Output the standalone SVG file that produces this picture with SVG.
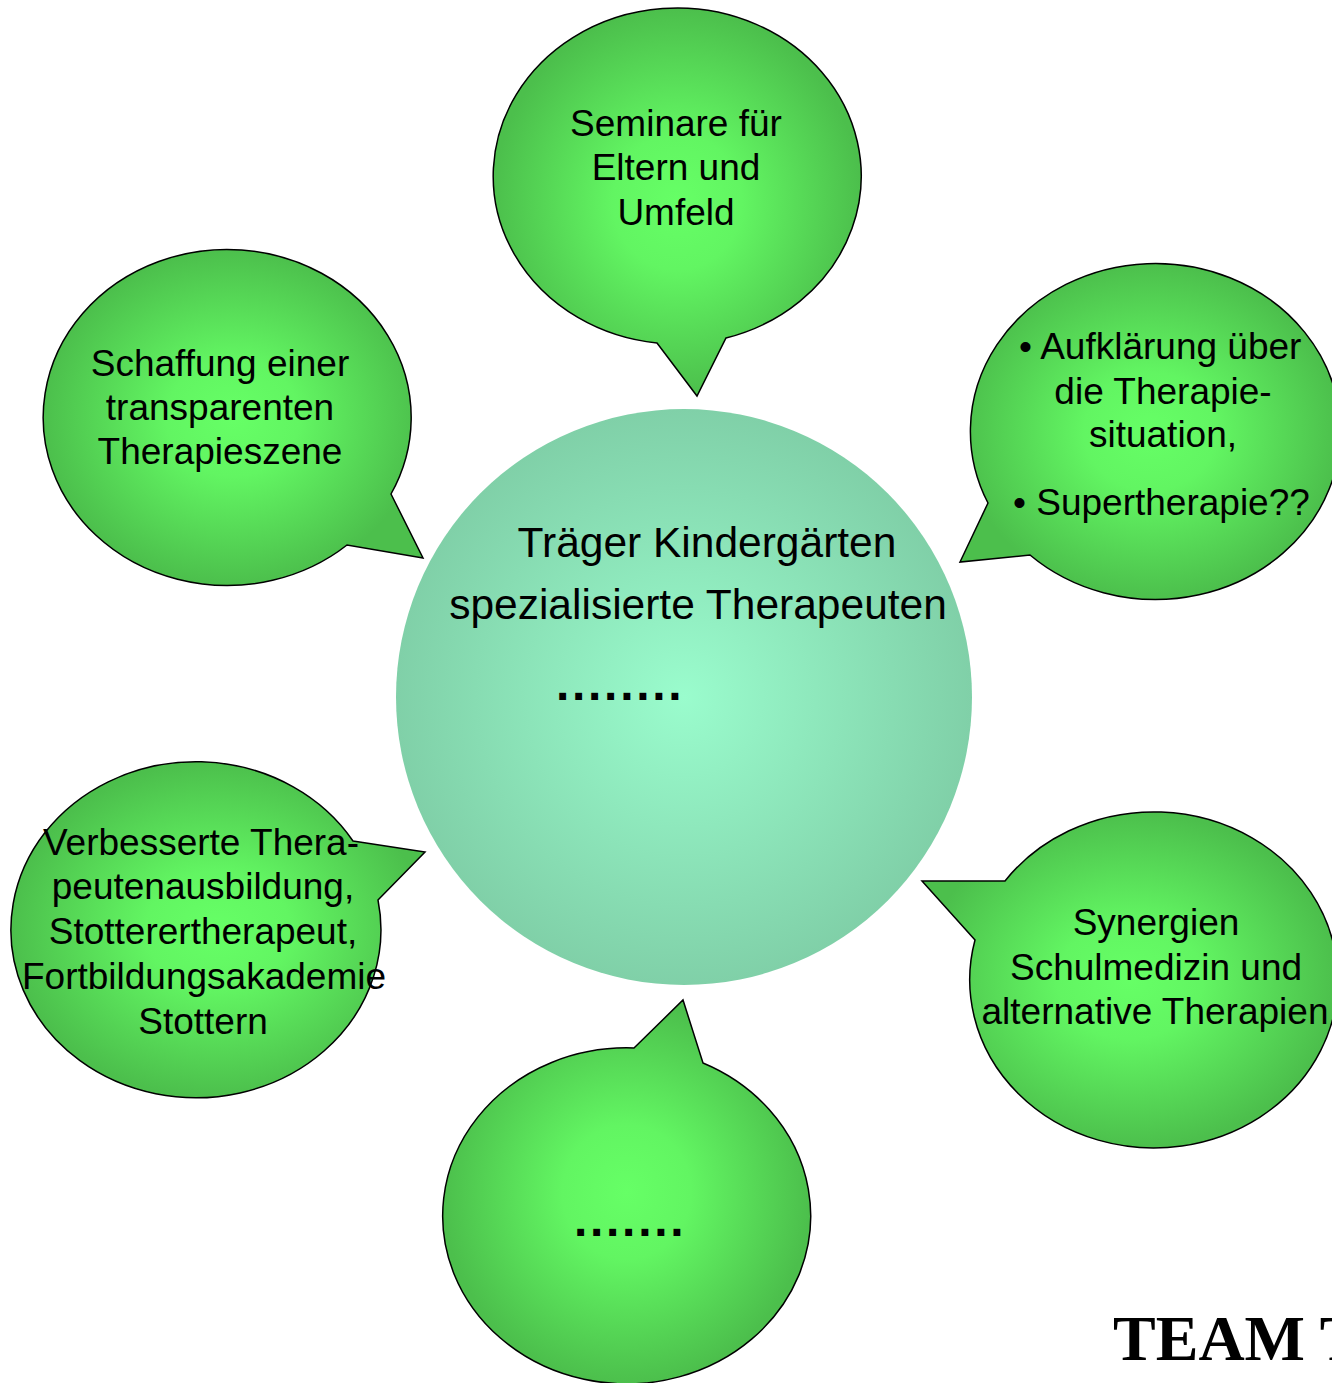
<svg xmlns="http://www.w3.org/2000/svg" width="1332" height="1383" viewBox="0 0 1332 1383">
<defs>
<radialGradient id="gBubble" cx="0.5" cy="0.5" r="0.5">
<stop offset="0" stop-color="#66FF66"/>
<stop offset="0.35" stop-color="#62F562"/>
<stop offset="1" stop-color="#4CBF4C"/>
</radialGradient>
<radialGradient id="gCenter" cx="0.5" cy="0.5" r="0.5">
<stop offset="0" stop-color="#9AFCCD"/>
<stop offset="1" stop-color="#80D0A8"/>
</radialGradient>
</defs>
<style>
.bubble{fill:url(#gBubble);stroke:#000;stroke-width:1.5;stroke-linejoin:miter}
.t{font-family:"Liberation Sans",Arial,sans-serif;font-size:37px;fill:#000;text-anchor:middle}
.ts{font-family:"Liberation Sans",Arial,sans-serif;font-size:37px;fill:#000}
.c{font-family:"Liberation Sans",Arial,sans-serif;font-size:42.5px;fill:#000;text-anchor:middle}
.dots{font-family:"Liberation Sans",Arial,sans-serif;font-size:48px;font-weight:bold;fill:#000;letter-spacing:2.7px}
</style>
<g id="center">
<circle cx="684" cy="697" r="288" fill="url(#gCenter)"/>
<text class="c" x="707" y="557">Träger Kindergärten</text>
<text class="c" x="698" y="619">spezialisierte Therapeuten</text>
<text class="dots" x="556" y="700">........</text>
</g>
<g id="connectors"></g>
<g id="bubble-top">
<path class="bubble" d="M657,343 L697,396 L726,338 A184 168 0 1 0 657,343 Z"/>
<text class="t" x="676" y="136">Seminare für</text>
<text class="t" x="676" y="180">Eltern und</text>
<text class="t" x="676" y="225">Umfeld</text>
</g>
<g id="bubble-topleft">
<path class="bubble" d="M391,494 L423,558 L347,545 A184 168 0 1 1 391,494 Z"/>
<text class="t" x="220" y="376">Schaffung einer</text>
<text class="t" x="220" y="420">transparenten</text>
<text class="t" x="220" y="464">Therapieszene</text>
</g>
<g id="bubble-right">
<path class="bubble" d="M988,503 L960,562 L1030,555 A185 168 0 1 0 988,503 Z"/>
<text class="ts" x="1019" y="359">• Aufklärung über</text>
<text class="t" x="1163" y="404">die Therapie-</text>
<text class="t" x="1163" y="447">situation,</text>
<text class="ts" x="1013" y="515">• Supertherapie??</text>
</g>
<g id="bubble-bottomleft">
<path class="bubble" d="M353,841 L425,852 L378,900 A185 168 0 1 1 353,841 Z"/>
<text class="t" x="201" y="855">Verbesserte Thera-</text>
<text class="t" x="203" y="899">peutenausbildung,</text>
<text class="t" x="203" y="944">Stotterertherapeut,</text>
<text class="t" x="204" y="989">Fortbildungsakademie</text>
<text class="t" x="203" y="1034">Stottern</text>
</g>
<g id="bubble-bottomright">
<path class="bubble" d="M1005,881 L922,881 L975,940 A184 168 0 1 0 1005,881 Z"/>
<text class="t" x="1156" y="935">Synergien</text>
<text class="t" x="1156" y="980">Schulmedizin und</text>
<text class="t" x="1155" y="1024">alternative Therapien</text>
</g>
<g id="bubble-bottom">
<path class="bubble" d="M634,1048 L683,1000 L703,1063 A184 168 0 1 1 634,1048 Z"/>
<text class="dots" x="574" y="1236">.......</text>
</g>
<text x="1113" y="1360" font-family="'Liberation Serif','Times New Roman',serif" font-weight="bold" font-size="64">TEAM T</text>
</svg>
